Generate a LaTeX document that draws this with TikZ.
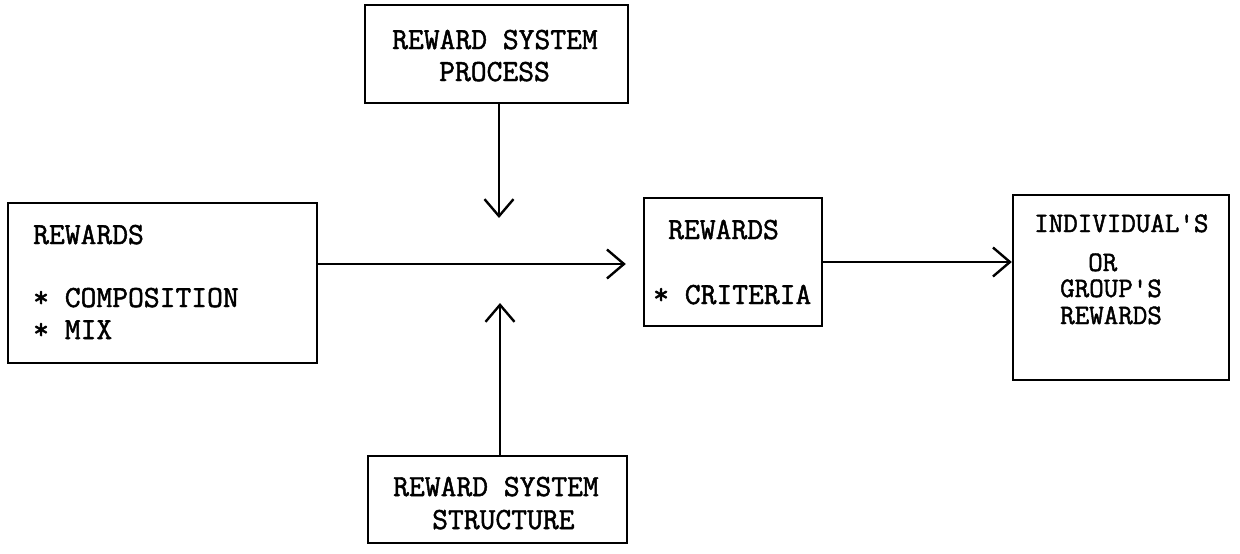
\documentclass[tikz,border=0pt]{standalone}
\usepackage{fontspec}
\setmonofont[FakeBold=1.6]{Latin Modern Mono}
\usetikzlibrary{arrows.meta}
\begin{document}
\begin{tikzpicture}[x=1pt,y=-1pt,
  box/.style={draw, line width=2.4pt, inner sep=0pt, rectangle},
  txt/.style={anchor=base west, inner sep=0pt, font=\ttfamily\fontsize{30.7}{32}\selectfont},
  txts/.style={anchor=base west, inner sep=0pt, font=\ttfamily\fontsize{28.2}{30}\selectfont},
  arr/.style={line width=2.4pt, -{Straight Barb[length=17pt,width=29pt,line width=2.4pt]}}]
\useasboundingbox (0,0) rectangle (1240,554);

% boxes
\node[box, minimum width=263pt, minimum height=98pt]  (proc)   at (496.5,54)  {};
\node[box, minimum width=259pt, minimum height=87pt]  (struct) at (497.5,499.5) {};
\node[box, minimum width=309pt, minimum height=160pt] (mix)    at (162.5,283) {};
\node[box, minimum width=178pt, minimum height=128pt] (crit)   at (733,262)   {};
\node[box, minimum width=216pt, minimum height=185pt] (out)    at (1121,287.5) {};

% labels
\node[txt] (procA) at (392,49) {REWARD SYSTEM};
\node[txt] (procB) at (439,81) {PROCESS};
\node[txt] (strA)  at (393,496) {REWARD SYSTEM};
\node[txt] (strB)  at (432,529) {STRUCTURE};
\node[txt] (mixA)  at (33,244) {REWARDS};
\node[txt] (mixB)  at (33,307) {* COMPOSITION};
\node[txt] (mixC)  at (33,339) {* MIX};
\node[txt] (critA) at (668,239) {REWARDS};
\node[txt] (critB) at (653,304) {* CRITERIA};
\node[txts] (outA) at (1034,232) {INDIVIDUAL'S};
\node[txts] (outB) at (1088,271) {OR};
\node[txts] (outC) at (1060,297) {GROUP'S};
\node[txts] (outD) at (1060,324) {REWARDS};

% connector ends
\coordinate (dtip) at (499,218);
\coordinate (utip) at (500,303);
\coordinate (hrow) at (0,264);

% connectors
\draw[arr] (dtip |- proc.south) -- (dtip);
\draw[arr] (utip |- struct.north) -- (utip);
\draw[arr, shorten >=17pt] (mix.east |- hrow) -- (crit.west |- hrow);
\draw[arr] (crit.east) -- (out.west |- crit.east);
\end{tikzpicture}
\end{document}
